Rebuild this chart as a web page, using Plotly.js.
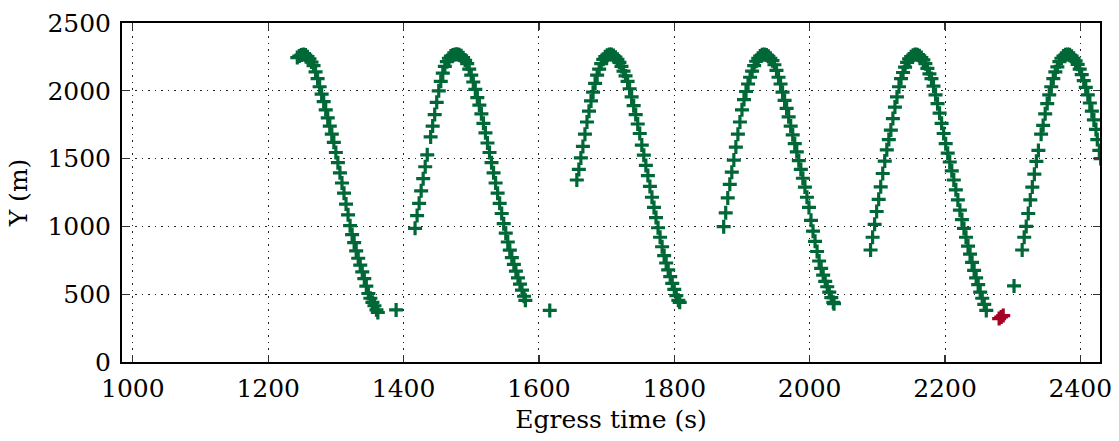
<!DOCTYPE html>
<html>
<head>
<meta charset="utf-8">
<script src="https://cdn.plot.ly/plotly-3.0.1.min.js"></script>
<style>html,body{margin:0;padding:0;background:#fff;}#chart{width:1119px;height:441px;}</style>
</head>
<body>
<div id="chart"></div>
<script>
// ---- data ----
const arc1T = [1243,1246,1249,1252,1255,1258,1261,1264,1267,1270,1273,1276,1279,1282,1285,1288,1291,1294,1297,1300,1303,1306,1309,1312,1315,1318,1321,1324,1327,1330,1333,1336,1339,1342,1345,1348,1351,1354,1357,1360,1362,1389];
const arc1Y = [2245,2256,2264,2268,2264,2252,2235,2212,2185,2140,2090,2030,1975,1920,1860,1800,1740,1680,1620,1545,1470,1395,1320,1245,1165,1085,1005,940,880,820,765,715,665,615,560,505,470,440,415,385,365,384];

const arc2T = [1417,1420,1423,1426,1429,1432,1435,1440,1443,1446,1449,1452,1455,1458,1461,1464,1467,1470,1473,1476,1479,1482,1485,1488,1491,1494,1497,1500,1503,1506,1509,1512,1515,1518,1521,1524,1527,1530,1533,1536,1539,1542,1545,1548,1551,1554,1557,1560,1563,1566,1569,1572,1575,1578,1580,1616];
const arc2Y = [986,1080,1170,1262,1352,1440,1528,1660,1740,1825,1915,2000,2070,2130,2180,2215,2240,2256,2264,2268,2270,2266,2258,2244,2225,2200,2160,2115,2065,2010,1950,1895,1830,1760,1690,1615,1545,1470,1395,1320,1245,1170,1095,1020,950,885,825,770,720,670,620,575,530,485,455,380];

const arc3T = [1656,1659,1662,1665,1668,1671,1674,1677,1680,1683,1686,1689,1692,1695,1698,1701,1704,1707,1710,1713,1716,1719,1722,1725,1728,1731,1734,1737,1740,1743,1746,1749,1752,1755,1758,1761,1764,1767,1770,1773,1776,1779,1782,1785,1788,1791,1794,1797,1800,1803,1806,1808];
const arc3Y = [1342,1420,1505,1590,1680,1770,1850,1925,1990,2055,2115,2160,2200,2232,2252,2263,2268,2267,2260,2248,2232,2210,2180,2145,2110,2070,2015,1955,1890,1825,1755,1685,1600,1525,1450,1375,1295,1215,1140,1065,990,920,850,785,730,680,630,580,535,490,455,440];

const arc4T = [1873,1876,1879,1882,1885,1888,1891,1894,1897,1900,1903,1906,1909,1912,1915,1918,1921,1924,1927,1930,1933,1936,1939,1942,1945,1948,1951,1954,1957,1960,1963,1966,1969,1972,1975,1978,1981,1984,1987,1990,1993,1996,1999,2002,2005,2008,2011,2014,2017,2020,2023,2026,2029,2032,2035,2036];
const arc4Y = [998,1100,1210,1310,1400,1489,1585,1680,1770,1860,1935,1995,2050,2100,2145,2185,2218,2240,2256,2266,2268,2264,2254,2240,2222,2192,2150,2100,2050,1990,1930,1870,1808,1740,1675,1610,1550,1485,1420,1355,1290,1215,1140,1045,965,890,815,745,690,640,595,555,515,475,440,430];

const arc5T = [2090,2093,2096,2099,2102,2105,2108,2111,2114,2117,2120,2123,2126,2129,2132,2135,2138,2141,2144,2147,2150,2153,2156,2159,2162,2165,2168,2171,2174,2177,2180,2183,2186,2189,2192,2195,2198,2201,2204,2207,2210,2213,2216,2219,2222,2225,2228,2231,2234,2237,2240,2243,2246,2249,2252,2255,2258,2261,2302];
const arc5Y = [826,920,1015,1110,1200,1292,1390,1482,1565,1640,1710,1795,1880,1955,2030,2090,2135,2175,2210,2235,2252,2263,2268,2265,2258,2245,2228,2200,2165,2125,2090,2035,1970,1905,1835,1760,1685,1610,1540,1475,1410,1342,1270,1195,1120,1050,985,920,855,795,735,675,620,570,515,470,425,380,561];

const arc6T = [2314,2317,2320,2323,2326,2329,2332,2335,2338,2342,2345,2348,2351,2354,2357,2360,2363,2366,2369,2372,2375,2378,2381,2384,2387,2390,2393,2396,2399,2402,2405,2408,2411,2414,2417,2420,2423,2425,2428,2430];
const arc6Y = [826,920,1000,1095,1195,1290,1385,1480,1560,1680,1745,1830,1906,1970,2030,2090,2140,2176,2215,2240,2256,2265,2268,2265,2255,2240,2220,2195,2160,2120,2075,2025,1970,1910,1850,1785,1715,1640,1560,1500];

const redT = [2280,2283,2286];
const redY = [320,332,342];

const xTicks = [1000,1200,1400,1600,1800,2000,2200,2400];
const yTicks = [0,500,1000,1500,2000,2500];

const green = '#006837';
const red = '#a50026';

const greenX = [].concat(arc1T, arc2T, arc3T, arc4T, arc5T, arc6T);
const greenY = [].concat(arc1Y, arc2Y, arc3Y, arc4Y, arc5Y, arc6Y);

const mk = (c) => ({symbol: 'cross-thin', size: 10, color: c, line: {color: c, width: 3.2}});

const traces = [
  {x: greenX, y: greenY, type: 'scatter', mode: 'markers', marker: mk(green), showlegend: false},
  {x: redT, y: redY, type: 'scatter', mode: 'markers', marker: mk(red), showlegend: false}
];

const font = {family: 'DejaVu Serif, serif', size: 25, color: '#000'};
const axisCommon = {
  showline: true, linecolor: '#000', linewidth: 2, mirror: 'ticks',
  ticks: 'inside', ticklen: 7, tickwidth: 1.2, tickcolor: '#333',
  showgrid: true, gridcolor: '#222', gridwidth: 1, griddash: '1.5px,5px',
  zeroline: false, tickfont: font
};

const layout = {
  width: 1119, height: 441,
  margin: {l: 122, r: 19, t: 23, b: 79},
  paper_bgcolor: '#fff', plot_bgcolor: '#fff',
  font: font,
  xaxis: Object.assign({}, axisCommon, {
    range: [984, 2429], tickvals: xTicks, ticktext: xTicks.map(String),
    ticklabelstandoff: 3,
    title: {text: 'Egress time (s)', font: font, standoff: 8}
  }),
  yaxis: Object.assign({}, axisCommon, {
    range: [0, 2500], tickvals: yTicks, ticktext: yTicks.map(String),
    ticklabelstandoff: 4,
    title: {text: 'Y (m)', font: font, standoff: 13}
  })
};

Plotly.newPlot('chart', traces, layout, {displayModeBar: false, staticPlot: true});
</script>
</body>
</html>
